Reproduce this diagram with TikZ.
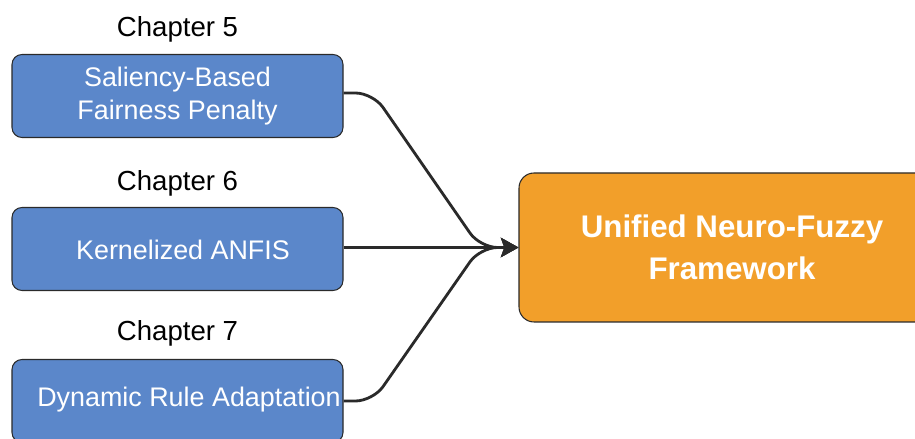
\documentclass[tikz,border=0pt]{standalone}
\usepackage{fontspec}
\setmainfont{Liberation Sans}
\usetikzlibrary{positioning,arrows.meta}

\definecolor{chapblue}{HTML}{5B87CA}
\definecolor{unifyorange}{HTML}{F29F2A}
\definecolor{edgegray}{HTML}{2A2A2A}

\begin{document}
\begin{tikzpicture}[
    chapbox/.style={draw=edgegray, line width=0.6pt, fill=chapblue, rounded corners=0.2cm,
        minimum width=6.62cm, minimum height=1.66cm, text=white, align=center,
        font=\fontsize{15.3}{19}\selectfont},
    chaplabel/.style={font=\fontsize{15.7}{18}\selectfont},
    unifybox/.style={draw=edgegray, line width=0.6pt, fill=unifyorange, rounded corners=0.3cm,
        minimum width=8.52cm, minimum height=2.98cm, text=white, align=center,
        font=\bfseries\fontsize{17.8}{23.8}\selectfont},
    feed/.style={draw=edgegray, line width=1.6pt, rounded corners=0.35cm,
        -{Stealth[length=10pt, width=11pt, inset=2pt]}}
]
    \useasboundingbox (0,0) rectangle (18.3,8.78);

    % Chapter boxes
    \node[chapbox] (sal) at (3.55, 6.86) {Saliency-Based\\Fairness Penalty};
    \node[chapbox] (kern) at (3.55, 3.80) {};
    \node[text=white, font=\fontsize{15.3}{19}\selectfont] (kerntext) at (3.66, 3.79) {Kernelized ANFIS};
    \node[chapbox] (dyn) at (3.55, 0.76) {};
    \node[text=white, font=\fontsize{15.3}{19}\selectfont] (dyntext) at (3.78, 0.78) {Dynamic Rule Adaptation};

    % Chapter labels
    \node[chaplabel, above=0.12cm of sal] (ch5) {Chapter 5};
    \node[chaplabel, above=0.10cm of kern] (ch6) {Chapter 6};
    \node[chaplabel, above=0.14cm of dyn] (ch7) {Chapter 7};

    % Unified framework
    \node[unifybox] (unify) at (14.64, 3.83) {Unified Neuro-Fuzzy\\Framework};

    % Merging arrows
    \coordinate (c1) at (7.46, 6.92);
    \coordinate (c2) at (9.60, 3.83);
    \coordinate (c3) at (7.46, 0.76);
    \draw[feed] (sal.east |- c1) -- (c1) -- (c2) -- (unify.west);
    \draw[feed] (kern.east |- c2) -- (unify.west);
    \draw[feed] (dyn.east |- c3) -- (c3) -- (c2) -- (unify.west);
\end{tikzpicture}
\end{document}
